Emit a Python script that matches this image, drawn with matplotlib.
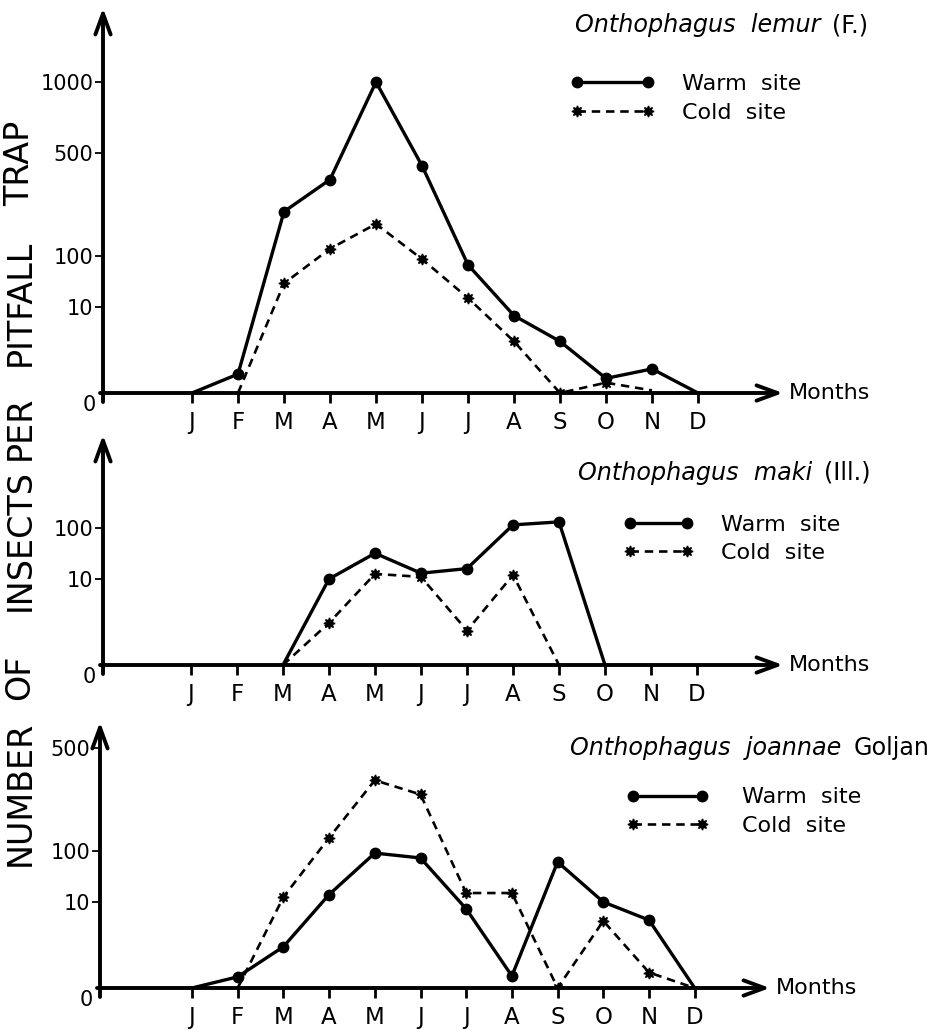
import numpy as np
import matplotlib
matplotlib.use('Agg')
import matplotlib.pyplot as plt
from matplotlib.lines import Line2D
from matplotlib.ticker import NullLocator

plt.rcParams['font.family'] = 'DejaVu Sans'

W, H = 935, 1031
nan = np.nan

# Dados (indivíduos por armadilha, meses J..D)
months = ['J', 'F', 'M', 'A', 'M', 'J', 'J', 'A', 'S', 'O', 'N', 'D']

lemur_warm = [0, 2.2, 200, 330, 1000, 410, 67, 9.0, 6.0, 1.7, 2.8, 0]
lemur_cold = [nan, 0, 29, 112, 165, 87, 15, 6.0, 0, 1.2, 0.3, nan]
maki_warm = [nan, nan, 0, 10, 32, 13, 16, 105, 110, 0, nan, nan]
maki_cold = [nan, nan, 0, 4.9, 12.6, 11, 4.0, 12, 0, nan, nan, nan]
joan_warm = [0, 1.3, 4.8, 14, 91, 73, 9.2, 1.4, 61, 10, 7.9, 0]
joan_cold = [nan, 0, 12.5, 123, 302, 242, 15, 15, 0, 7.8, 1.8, 0]

# meses com marcador
lemur_warm_marks = [1, 2, 3, 4, 5, 6, 7, 8, 9, 10]
lemur_cold_marks = [2, 3, 4, 5, 6, 7, 8, 9]
maki_warm_marks = [3, 4, 5, 6, 7, 8]
maki_cold_marks = [3, 4, 5, 6, 7]
joan_warm_marks = [1, 2, 3, 4, 5, 6, 7, 8, 9, 10]
joan_cold_marks = [2, 3, 4, 5, 6, 7, 8, 9, 10]

# escala "quase log" do original: 0-10 linear, depois log por trechos
T_ANCH = [0, 1, 2, 1 + np.log10(50), 3, 5]
P_ANCH = [0, 86, 137, 240, 311, 783]


def fwd(v):
    v = np.asarray(v, dtype=float)
    t = np.where(v < 10, v / 10, 1 + np.log10(np.maximum(v, 10) / 10))
    return np.interp(t, T_ANCH, P_ANCH)


def inv(p):
    p = np.asarray(p, dtype=float)
    t = np.interp(p, P_ANCH, T_ANCH)
    return np.where(t < 1, 10 * t, 10 ** t)


def fx(x):
    return x / W


def fy(y):
    return 1 - y / H


panels = [
    dict(box=(103, 8, 783, 393), j0=192, step=46.0, warm=lemur_warm, cold=lemur_cold,
         wm=lemur_warm_marks, cm=lemur_cold_marks,
         yt=[10, 100, 500, 1000], title=('Onthophagus  lemur', '(F.)'), tpos=(575, 25),
         leg=(570, 98.5), hl=3.8, htp=1.26),
    dict(box=(103, 435, 783, 665), j0=191, step=46.0, warm=maki_warm, cold=maki_cold,
         wm=maki_warm_marks, cm=maki_cold_marks,
         yt=[10, 100], title=('Onthophagus  maki', '(Ill.)'), tpos=(578, 473),
         leg=(623, 539), hl=3.2, htp=1.23),
    dict(box=(100, 722, 770, 988), j0=192, step=45.7, warm=joan_warm, cold=joan_cold,
         wm=joan_warm_marks, cm=joan_cold_marks,
         yt=[10, 100, 500], title=('Onthophagus  joannae', 'Goljan'), tpos=(570, 748),
         leg=(626, 811.5), hl=3.7, htp=1.5),
]

fig = plt.figure(figsize=(W / 100, H / 100), dpi=100)

warm_style = dict(color='black', lw=2.4, solid_capstyle='round')
cold_style = dict(color='black', lw=1.9, dashes=(3.2, 2.2))
warm_mk = dict(marker='o', ms=7.5, color='black', ls='none')
cold_mk = dict(marker=(8, 1, 0), ms=8, color='black', ls='none')

for p in panels:
    x0, y0, x1, y1 = p['box']
    ax = fig.add_axes([fx(x0), fy(y1), (x1 - x0) / W, (y1 - y0) / H])
    hpx = y1 - y0
    ax.set_yscale('function', functions=(fwd, inv))
    ax.set_xlim((x0 - p['j0']) / p['step'], (x1 - p['j0']) / p['step'])
    ax.set_ylim(0, float(inv(hpx)))
    for s in ax.spines.values():
        s.set_visible(False)

    xs = np.arange(12)
    warm = np.array(p['warm'], dtype=float)
    cold = np.array(p['cold'], dtype=float)
    ax.plot(xs, cold, **cold_style, zorder=3)
    ax.plot(xs, warm, **warm_style, zorder=4)
    ax.plot(xs[p['wm']], warm[p['wm']], **warm_mk, zorder=5)
    ax.plot(xs[p['cm']], cold[p['cm']], **cold_mk, zorder=5)

    # eixos com setas
    ax.annotate('', xy=(0, 1), xytext=(0, -9 / hpx), xycoords='axes fraction',
                arrowprops=dict(arrowstyle='->,head_length=1.5,head_width=0.55',
                                lw=2.8, color='black', shrinkA=0, shrinkB=0))
    ax.annotate('', xy=(1, 0), xytext=(-3 / (x1 - x0), 0), xycoords='axes fraction',
                arrowprops=dict(arrowstyle='->,head_length=1.5,head_width=0.55',
                                lw=2.8, color='black', shrinkA=0, shrinkB=0))
    ax.annotate('Months', xy=(1, 0), xycoords='axes fraction', xytext=(6, 0),
                textcoords='offset pixels', ha='left', va='center', fontsize=16)

    ax.set_xticks(xs, months)
    ax.tick_params(axis='x', direction='out', length=7, width=2, pad=6, labelsize=16.5)
    ax.set_yticks(p['yt'], [str(v) for v in p['yt']])
    ax.yaxis.set_minor_locator(NullLocator())
    ax.tick_params(axis='y', direction='out', length=6, width=1.3, pad=1, labelsize=15)
    ax.text(-14 / (x1 - x0), -12 / hpx, '0', transform=ax.transAxes,
            ha='center', va='center', fontsize=15)

    # título
    tx, ty = p['tpos']
    t1 = fig.text(fx(tx), fy(ty), p['title'][0], style='italic', fontsize=17.2,
                  ha='left', va='center')
    ax.annotate(p['title'][1], xy=(1, 0.5), xycoords=t1, xytext=(12, 0),
                textcoords='offset pixels', ha='left', va='center', fontsize=17.2)

    # legenda
    hw = Line2D([], [], marker='o', ms=7.5, **warm_style)
    hc = Line2D([], [], marker=(8, 1, 0), ms=8, **cold_style)
    ax.legend([hw, hc], ['Warm  site', 'Cold  site'], loc='center left',
              bbox_to_anchor=(fx(p['leg'][0]), fy(p['leg'][1])),
              bbox_transform=fig.transFigure, frameon=False, numpoints=2,
              handlelength=p['hl'], handletextpad=p['htp'], labelspacing=0.38,
              borderpad=0, borderaxespad=0, fontsize=16)

# rótulo do eixo y, palavra por palavra
words = ['TRAP', 'PITFALL', 'PER', 'INSECTS', 'OF', 'NUMBER']
centers = [163, 303, 428, 540, 677, 793]
for w, c in zip(words, centers):
    fig.text(fx(20), fy(c), w, rotation=90, fontsize=24, ha='center', va='center')

fig.savefig('out.png', dpi=100)
